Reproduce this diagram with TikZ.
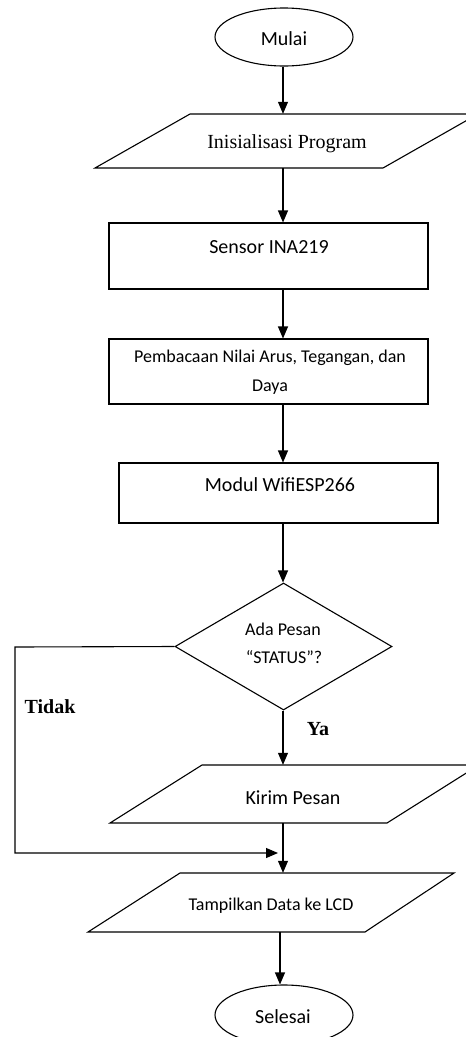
\documentclass[tikz,border=0pt]{standalone}
\usepackage{fontspec}
\setmainfont{Liberation Serif}
\newfontfamily\calib{Carlito}
\usetikzlibrary{shapes.geometric,arrows.meta}
\begin{document}
\begin{tikzpicture}[x=1pt,y=-1pt,
  ln/.style={draw=black, line width=1.1pt},
  arr/.style={ln, -{Triangle[width=10pt,length=12pt]}},
  boxnode/.style={ln, rectangle, inner sep=0pt},
  oval/.style={ln, ellipse, inner sep=0pt, minimum width=138pt, minimum height=58pt},
  shapebox/.style={inner sep=0pt},
  lbl/.style={inner sep=0pt, anchor=base, font=\calib\fontsize{20}{24}\selectfont},
  lbls/.style={inner sep=0pt, anchor=base, font=\calib\fontsize{18}{22}\selectfont},
  serif/.style={inner sep=0pt, anchor=base, font=\fontsize{20}{24}\selectfont},
  boldlbl/.style={inner sep=0pt, anchor=base, font=\bfseries\fontsize{20}{24}\selectfont}
]
\useasboundingbox (0,0) rectangle (466,1037);
\clip (0,0) rectangle (466,1037);
\fill[white] (0,0) rectangle (466,1037);

\coordinate (sp) at (283,0);
\coordinate (sp2) at (280,0);

% start
\node[oval] (mulai) at (284,37) {};
\node[lbl] (tmulai) at (284,45) {Mulai};

% init
\draw[ln] (190,114) -- (478,114) -- (383,168) -- (95,168) -- cycle;
\node[shapebox, minimum width=288pt, minimum height=54pt] (init) at (286.5,141) {};
\node[serif] (tinit) at (287,148) {Inisialisasi Program};

% sensor
\node[boxnode, minimum width=319pt, minimum height=66pt] (sensor) at (268.5,256) {};
\node[lbl] (tsensor) at (269,253) {Sensor INA219};

% pembacaan
\node[boxnode, minimum width=319pt, minimum height=65pt] (baca) at (268.5,371.5) {};
\node[lbls] (tbaca1) at (270,362) {Pembacaan Nilai Arus, Tegangan, dan};
\node[lbls] (tbaca2) at (270,391) {Daya};

% modul
\node[boxnode, minimum width=319pt, minimum height=60pt] (modul) at (278.5,493) {};
\node[lbl] (tmodul) at (280,491) {Modul WifiESP266};

% decision
\node[ln, diamond, inner sep=0pt, minimum width=217pt, minimum height=127pt] (dec) at (283.5,646.5) {};
\node[lbls] (tdec1) at (283,635) {Ada Pesan};
\node[lbls] (tdec2) at (284,663) {“STATUS”?};

% kirim
\draw[ln] (202,765) -- (479,765) -- (387,823) -- (110,823) -- cycle;
\node[shapebox, minimum width=277pt, minimum height=58pt] (kirim) at (294.5,794) {};
\node[lbl] (tkirim) at (293,804) {Kirim Pesan};

% tampilkan
\draw[ln] (180,873) -- (454,873) -- (365,932) -- (88,932) -- cycle;
\node[shapebox, minimum width=277pt, minimum height=59pt] (tamp) at (271,902.5) {};
\node[lbls] (ttamp) at (271,910) {Tampilkan Data ke LCD};

% end
\node[oval, minimum height=60pt] (selesai) at (284,1015) {};
\node[lbl] (tselesai) at (283,1023) {Selesai};

% labels
\node[boldlbl] (tidak) at (50,713) {Tidak};
\node[boldlbl] (ya) at (318,735) {Ya};

% connectors
\draw[arr] (sp |- mulai.south) -- (sp |- init.north);
\draw[arr] (sp |- init.south) -- (sp |- sensor.north);
\draw[arr] (sp |- sensor.south) -- (sp |- baca.north);
\draw[arr] (sp |- baca.south) -- (sp |- modul.north);
\draw[arr] (sp |- modul.south) -- (sp |- dec.north);
\draw[arr] (sp |- dec.south) -- (sp |- kirim.north);
\draw[arr] (sp |- kirim.south) -- (sp |- tamp.north);
\draw[arr] (sp2 |- tamp.south) -- (sp2 |- selesai.north);

\coordinate (lcorner) at (15,647);
\coordinate (tend) at (278,853);
\draw[arr] (dec.west) -- (lcorner) |- (tend);
\end{tikzpicture}
\end{document}
